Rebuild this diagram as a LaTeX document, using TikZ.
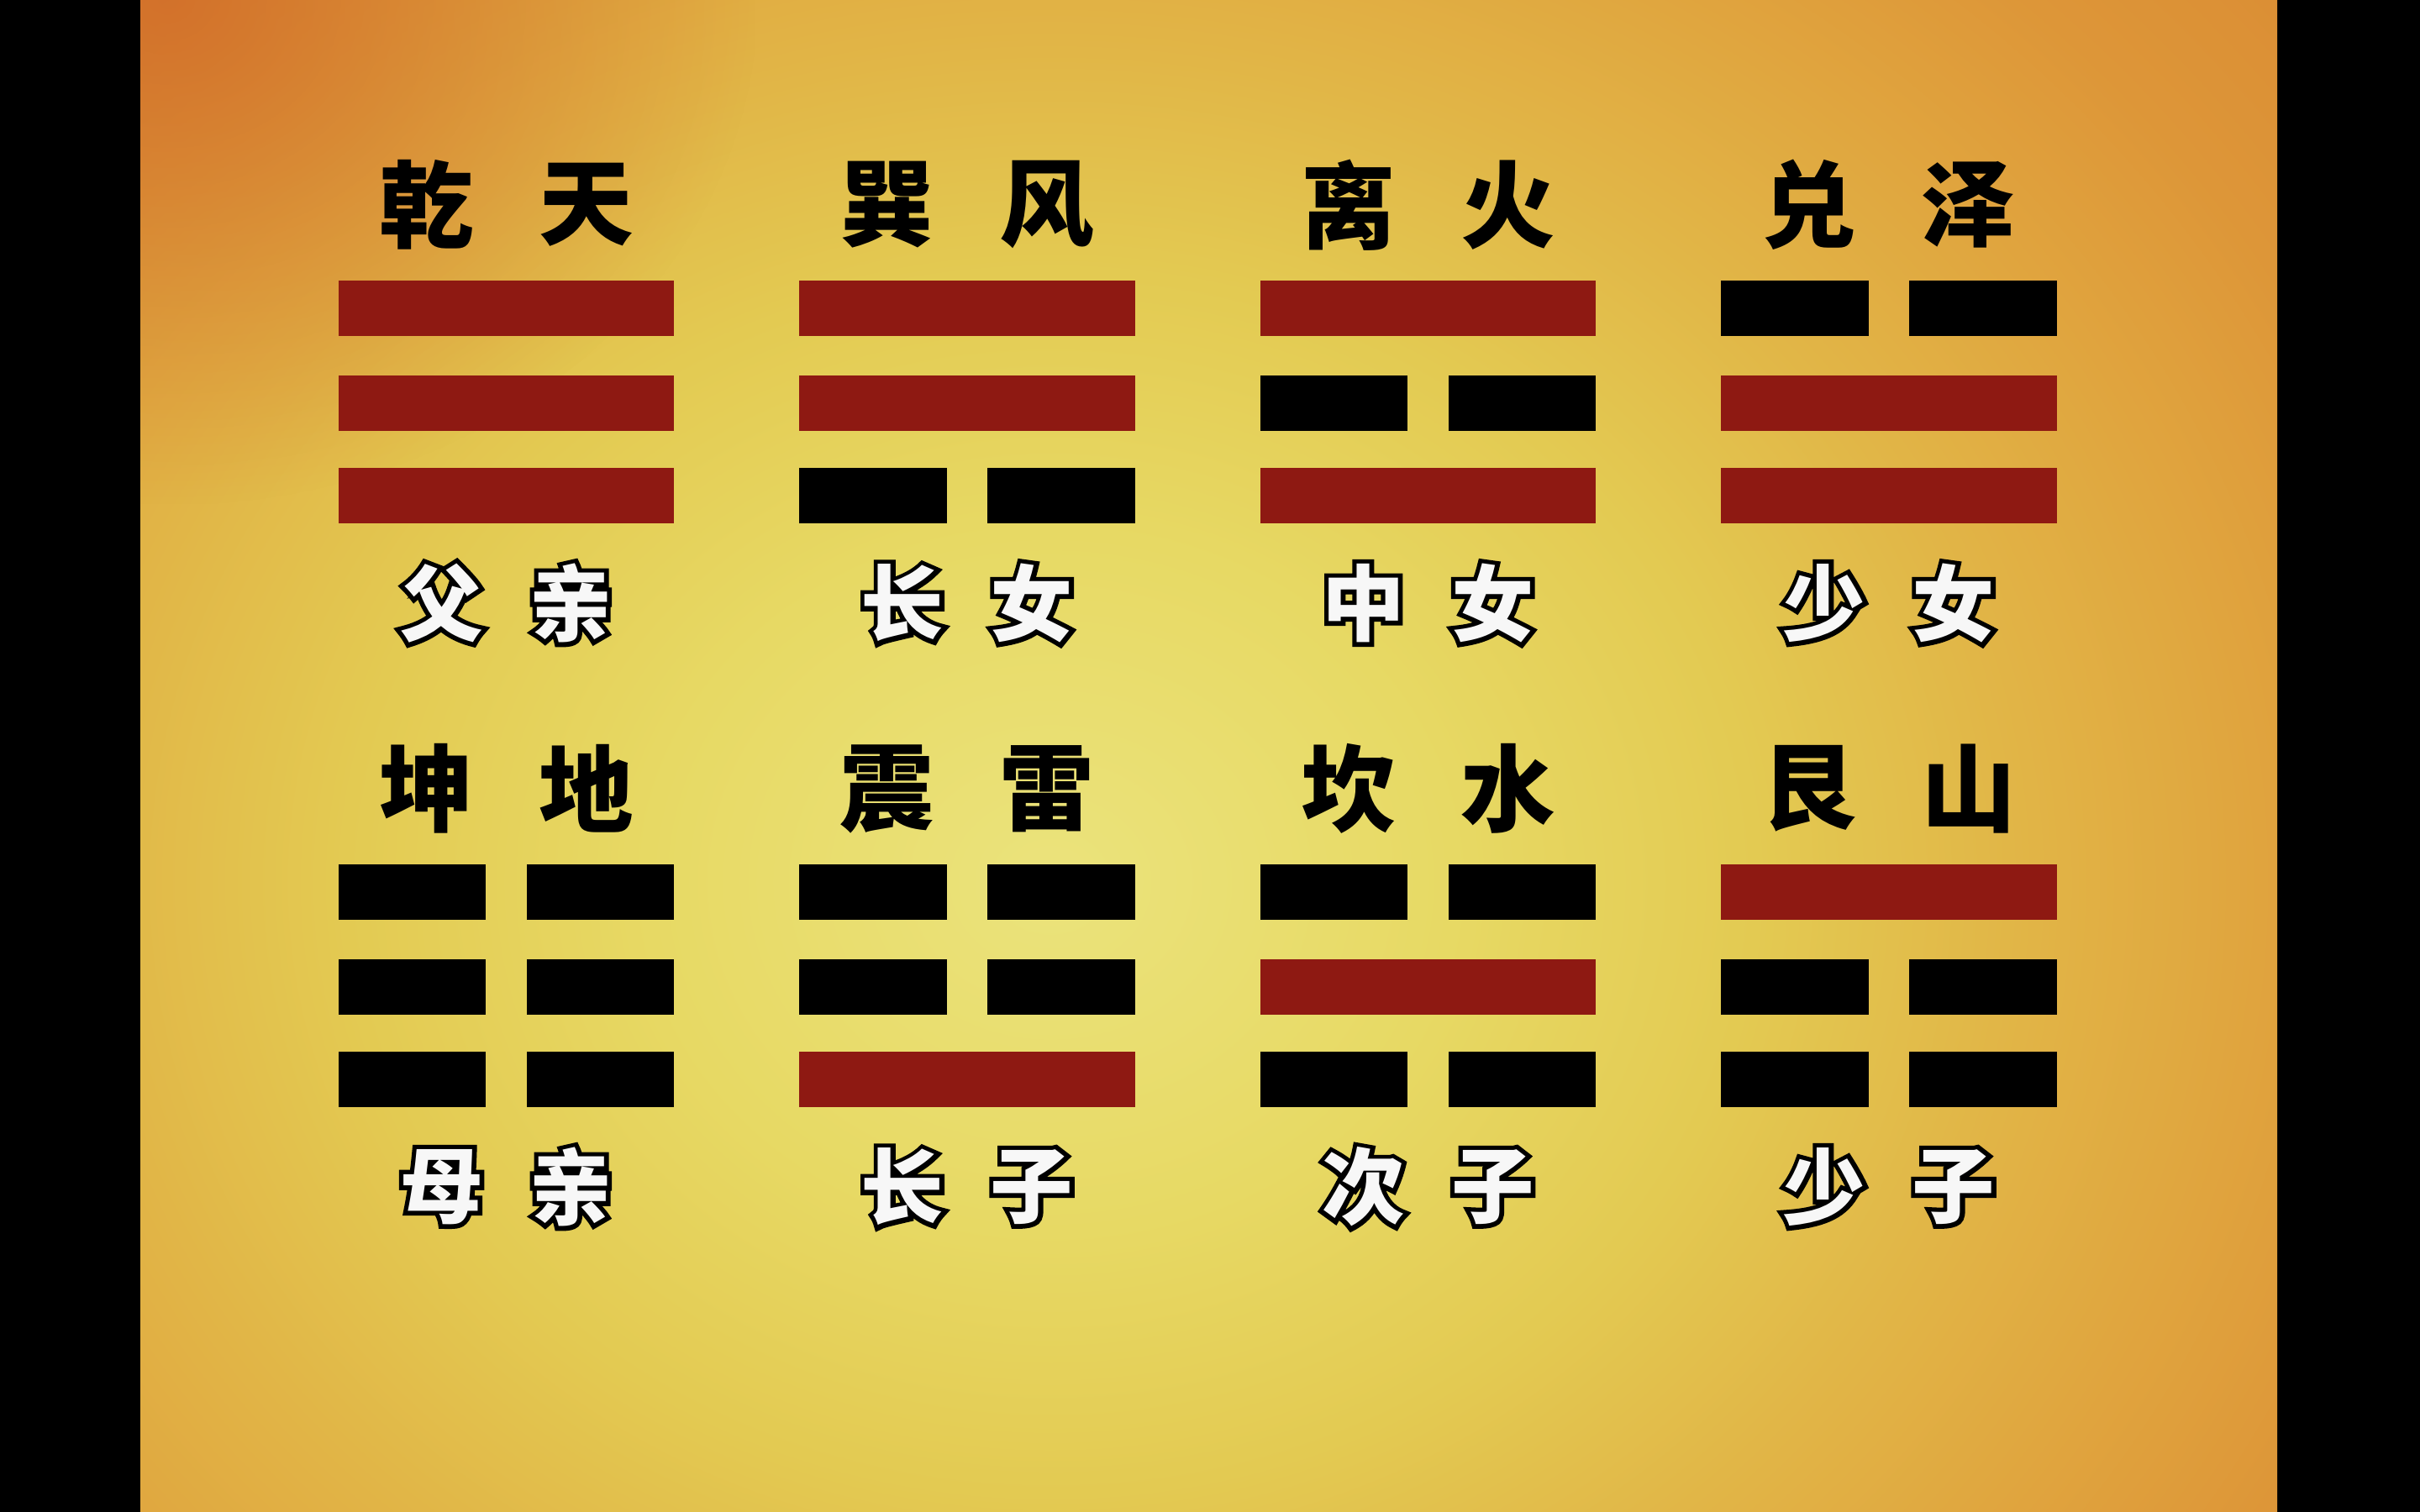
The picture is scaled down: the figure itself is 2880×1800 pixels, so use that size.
\documentclass[tikz,border=0pt]{standalone}
\usepackage{fontspec}
\newfontfamily\cjk{Noto Sans CJK SC}
\newfontfamily\cjkol[BoldFeatures={FakeBold=11},FakeBold=11]{Noto Sans CJK SC}
\usetikzlibrary{fadings}
\definecolor{barred}{HTML}{8E1912}
\definecolor{c0}{HTML}{EBE37C}
\definecolor{c1}{HTML}{E7D964}
\definecolor{c2}{HTML}{E3CA52}
\definecolor{c3}{HTML}{E1B647}
\definecolor{c4}{HTML}{E0A43E}
\definecolor{c5}{HTML}{DD9638}
\definecolor{c6}{HTML}{DA8A33}
\definecolor{deep}{HTML}{CF6426}
\pgfdeclareradialshading{bgshade}{\pgfpoint{0bp}{0bp}}{color(0bp)=(c0); color(8bp)=(c1); color(14bp)=(c2); color(19bp)=(c3); color(24bp)=(c4); color(28bp)=(c5); color(34bp)=(c6); color(50bp)=(c6)}
\tikzfading[name=cornerfade, inner color=transparent!0, outer color=transparent!100]
\newcommand\olt[1]{\makebox[0pt][l]{\color{black}\cjkol\bfseries #1}#1}
\begin{document}
\begin{tikzpicture}[x=0.01cm,y=-0.01cm,
  yang/.style={fill=barred, minimum width=3.99cm, minimum height=0.66cm, inner sep=0pt, draw=none},
  yinseg/.style={fill=black, minimum width=1.75cm, minimum height=0.66cm, inner sep=0pt, draw=none},
  toplab/.style={font=\cjk\bfseries\fontsize{32}{32}\selectfont, text=black, inner sep=0pt},
  botlab/.style={font=\cjk\bfseries\fontsize{28}{28}\selectfont, text=gray!6, inner sep=0pt}]
\useasboundingbox (0,0) rectangle (2880,1800);
\fill[black] (0,0) rectangle (2880,1800);
\begin{scope}
  \clip (167,0) rectangle (2710,1800);
  \shade[shading=bgshade] (-250,-250) rectangle (2750,2350);
  \fill[deep, fill opacity=0.75, path fading=cornerfade] (-500,-600) rectangle (900,600);
\end{scope}
\foreach \n/\c/\r/\ta/\tb/\ba/\bb/\la/\lb/\lc in {
  1/0/0/乾/天/父/亲/1/1/1, 2/1/0/巽/风/长/女/1/1/0,
  3/2/0/离/火/中/女/1/0/1, 4/3/0/兑/泽/少/女/0/1/1,
  5/0/1/坤/地/母/亲/0/0/0, 6/1/1/震/雷/长/子/0/0/1,
  7/2/1/坎/水/次/子/0/1/0, 8/3/1/艮/山/少/子/1/0/0}
{
  \pgfmathsetmacro\cx{602.5+548.5*\c}
  \pgfmathsetmacro\oy{695*\r}
  \node[toplab] (t\n a) at (\cx-95, 244+\oy) {\ta};
  \node[toplab] (t\n b) at (\cx+95, 244+\oy) {\tb};
  \node[botlab] (b\n a) at (\cx-77, 718+\oy) {\olt{\ba}};
  \node[botlab] (b\n b) at (\cx+77, 718+\oy) {\olt{\bb}};
  \foreach \k/\v/\yy in {1/\la/367, 2/\lb/480, 3/\lc/590}{
    \ifnum\v=1
      \node[yang] (g\n-\k) at (\cx, \yy+\oy) {};
    \else
      \node[yinseg] (g\n-\k l) at (\cx-112, \yy+\oy) {};
      \node[yinseg] (g\n-\k r) at (\cx+112, \yy+\oy) {};
    \fi
  }
}
\end{tikzpicture}
\end{document}
